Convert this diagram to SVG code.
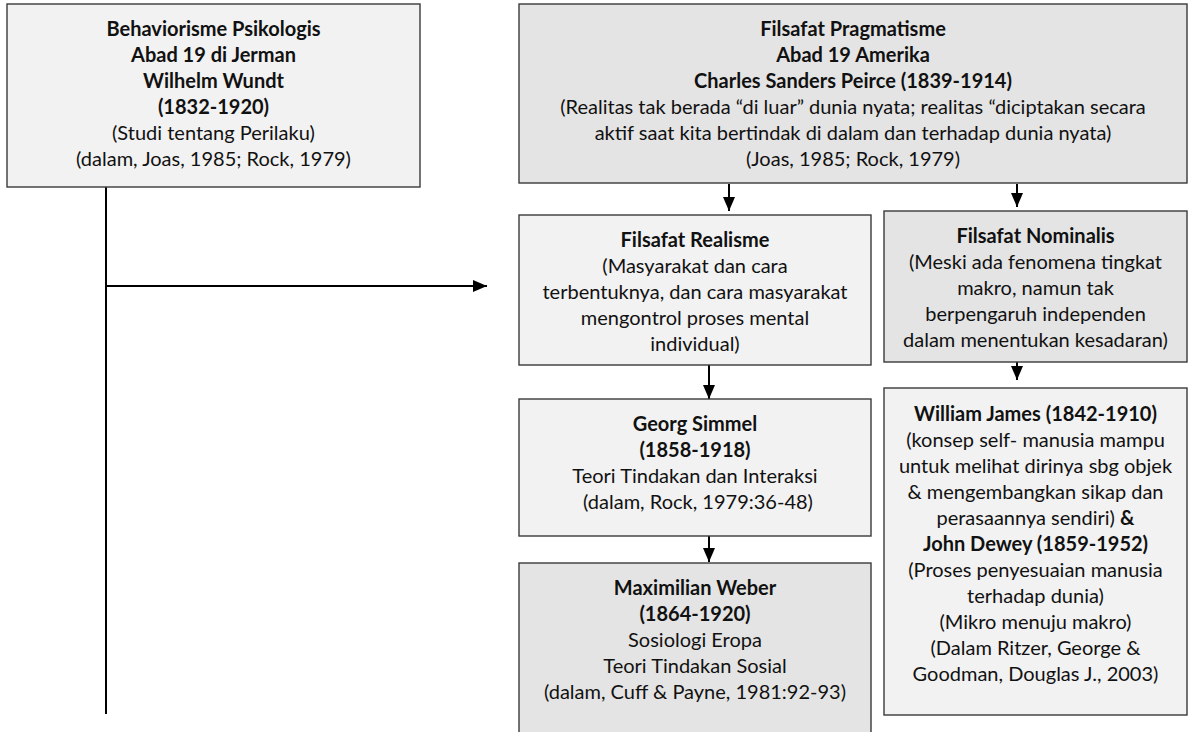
<svg xmlns="http://www.w3.org/2000/svg" width="1189" height="732" viewBox="0 0 1189 732">
  <style>
    .box { stroke: #3a3a3a; stroke-width: 1.4; }
    .light { fill: #f2f2f2; }
    .dark { fill: #e4e4e4; }
    text { font-family: Lato, "Open Sans", "Liberation Sans", sans-serif; font-size: 20px; fill: #111; text-anchor: middle; }
    .b { font-weight: bold; }
    .link { stroke: #000; stroke-width: 2; fill: none; }
  </style>
  <defs>
    <marker id="head" viewBox="0 0 14 12" refX="14" refY="6" markerWidth="14" markerHeight="12" markerUnits="userSpaceOnUse" orient="auto">
      <path d="M0,0 L14,6 L0,12 Z" fill="#000"/>
    </marker>
  </defs>

  <!-- connectors -->
  <g id="connectors">
    <line class="link" x1="106" y1="187" x2="106" y2="714"/>
    <line class="link" x1="106" y1="286" x2="487" y2="286" marker-end="url(#head)"/>
    <line class="link" x1="729" y1="184" x2="729" y2="211" marker-end="url(#head)"/>
    <line class="link" x1="1017" y1="184" x2="1017" y2="207" marker-end="url(#head)"/>
    <line class="link" x1="709" y1="365" x2="709" y2="399" marker-end="url(#head)"/>
    <line class="link" x1="1017" y1="362" x2="1017" y2="380" marker-end="url(#head)"/>
    <line class="link" x1="709" y1="536" x2="709" y2="562" marker-end="url(#head)"/>
  </g>

  <!-- Behaviorisme Psikologis -->
  <g id="behaviorisme">
    <rect class="box light" x="7" y="4" width="413" height="183"/>
    <text x="213.5" y="36" class="b">Behaviorisme Psikologis</text>
    <text x="213.5" y="62" class="b">Abad 19 di Jerman</text>
    <text x="213.5" y="88" class="b">Wilhelm Wundt</text>
    <text x="213.5" y="114" class="b">(1832-1920)</text>
    <text x="213.5" y="140">(Studi tentang Perilaku)</text>
    <text x="213.5" y="166">(dalam, Joas, 1985; Rock, 1979)</text>
  </g>

  <!-- Filsafat Pragmatisme -->
  <g id="pragmatisme">
    <rect class="box dark" x="519" y="4" width="668" height="179"/>
    <text x="853" y="36" class="b">Filsafat Pragmatisme</text>
    <text x="853" y="62" class="b">Abad 19 Amerika</text>
    <text x="853" y="88" class="b">Charles Sanders Peirce (1839-1914)</text>
    <text x="853" y="114">(Realitas tak berada “di luar” dunia nyata; realitas “diciptakan secara</text>
    <text x="853" y="140">aktif saat kita bertindak di dalam dan terhadap dunia nyata)</text>
    <text x="853" y="166">(Joas, 1985; Rock, 1979)</text>
  </g>

  <!-- Filsafat Realisme -->
  <g id="realisme">
    <rect class="box light" x="519" y="215" width="352" height="150"/>
    <text x="695" y="247" class="b">Filsafat Realisme</text>
    <text x="695" y="273">(Masyarakat dan cara</text>
    <text x="695" y="299">terbentuknya, dan cara masyarakat</text>
    <text x="695" y="325">mengontrol proses mental</text>
    <text x="695" y="351">individual)</text>
  </g>

  <!-- Filsafat Nominalis -->
  <g id="nominalis">
    <rect class="box dark" x="884" y="211" width="303" height="151"/>
    <text x="1035.5" y="243" class="b">Filsafat Nominalis</text>
    <text x="1035.5" y="269">(Meski ada fenomena tingkat</text>
    <text x="1035.5" y="295">makro, namun tak</text>
    <text x="1035.5" y="321">berpengaruh independen</text>
    <text x="1035.5" y="347">dalam menentukan kesadaran)</text>
  </g>

  <!-- Georg Simmel -->
  <g id="simmel">
    <rect class="box light" x="519" y="399" width="352" height="137"/>
    <text x="695" y="431" class="b">Georg Simmel</text>
    <text x="695" y="457" class="b">(1858-1918)</text>
    <text x="695" y="483">Teori Tindakan dan Interaksi</text>
    <text x="698" y="509">(dalam, Rock, 1979:36-48)</text>
  </g>

  <!-- Maximilian Weber -->
  <g id="weber">
    <rect class="box dark" x="519" y="563" width="352" height="180"/>
    <text x="695" y="595" class="b">Maximilian Weber</text>
    <text x="695" y="621" class="b">(1864-1920)</text>
    <text x="695" y="647">Sosiologi Eropa</text>
    <text x="695" y="673">Teori Tindakan Sosial</text>
    <text x="695" y="699">(dalam, Cuff &amp; Payne, 1981:92-93)</text>
  </g>

  <!-- William James & John Dewey -->
  <g id="james-dewey">
    <rect class="box light" x="884" y="388" width="303" height="327"/>
    <text x="1035.5" y="421" class="b">William James (1842-1910)</text>
    <text x="1035.5" y="447">(konsep self- manusia mampu</text>
    <text x="1035.5" y="473">untuk melihat dirinya sbg objek</text>
    <text x="1035.5" y="499">&amp; mengembangkan sikap dan</text>
    <text x="1035.5" y="525">perasaannya sendiri) <tspan class="b">&amp;</tspan></text>
    <text x="1035.5" y="551" class="b">John Dewey (1859-1952)</text>
    <text x="1035.5" y="577">(Proses penyesuaian manusia</text>
    <text x="1035.5" y="603">terhadap dunia)</text>
    <text x="1035.5" y="629">(Mikro menuju makro)</text>
    <text x="1035.5" y="655">(Dalam Ritzer, George &amp;</text>
    <text x="1035.5" y="681">Goodman, Douglas J., 2003)</text>
  </g>
</svg>
